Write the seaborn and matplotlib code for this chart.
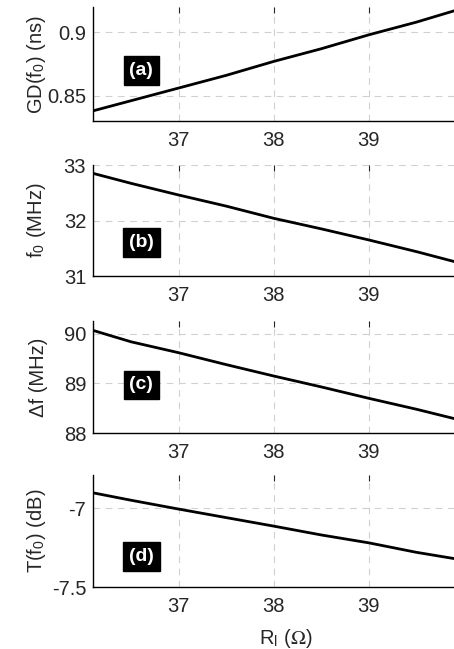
import matplotlib
matplotlib.use('Agg')
import matplotlib.pyplot as plt
import numpy as np
import pandas as pd
import seaborn as sns

# load resistance R_l (ohm)
rl = [36.1, 36.5, 37.0, 37.5, 38.0, 38.5, 39.0, 39.5, 39.9]
# group delay at f0 (ns)
gd = [0.838, 0.846, 0.856, 0.866, 0.877, 0.887, 0.898, 0.908, 0.917]
# centre frequency (MHz)
f0 = [32.85, 32.67, 32.46, 32.26, 32.04, 31.85, 31.65, 31.44, 31.26]
# bandwidth (MHz)
df_bw = [90.07, 89.84, 89.62, 89.38, 89.15, 88.93, 88.70, 88.48, 88.29]
# transmission at f0 (dB)
tf0 = [-6.903, -6.95, -7.006, -7.06, -7.114, -7.17, -7.22, -7.28, -7.32]

xticks = [37, 38, 39]

sns.set_style('white')
plt.rcParams['font.family'] = ['Liberation Sans', 'DejaVu Sans']
plt.rcParams['mathtext.fontset'] = 'stix'
plt.rcParams['font.size'] = 14

data = pd.DataFrame({'rl': rl, 'gd': gd, 'f0': f0, 'df': df_bw, 'tf0': tf0})

fig = plt.figure(figsize=(4.54, 6.49), dpi=100)

# panel settings: column, ylabel, ylim, yticks, ticklabels, axes rect, tag pos
panels = [
    ('gd', r'GD(f$_\mathregular{0}$) (ns)', (0.83, 0.92), [0.85, 0.9], ['0.85', '0.9'],
     [0.205, 0.8136, 0.80, 0.1757], '(a)', 0.44),
    ('f0', r'f$_\mathregular{0}$ (MHz)', (31, 33), [31, 32, 33], ['31', '32', '33'],
     [0.205, 0.5747, 0.80, 0.171], '(b)', 0.30),
    ('df', 'Δf (MHz)', (88, 90.26), [88, 89, 90], ['88', '89', '90'],
     [0.205, 0.3328, 0.80, 0.1726], '(c)', 0.43),
    ('tf0', r'T(f$_\mathregular{0}$) (dB)', (-7.5, -6.79), [-7.5, -7], ['-7.5', '-7'],
     [0.205, 0.0955, 0.80, 0.1726], '(d)', 0.27),
]

for col, ylab, ylim, yt, ytl, rect, tag, ty in panels:
    ax = fig.add_axes(rect)
    sns.lineplot(data=data, x='rl', y=col, ax=ax, color='black', linewidth=2)
    ax.set_xlim(36.1, 39.92)
    ax.set_ylim(*ylim)
    ax.set_xticks(xticks)
    ax.set_yticks(yt)
    ax.set_yticklabels(ytl)
    ax.set_xlabel('')
    ax.set_ylabel(ylab, fontsize=14.5)
    ax.yaxis.set_label_coords(-0.125, 0.5)
    ax.grid(True, color='#d0d0d0', linestyle=(0, (6, 5)), linewidth=0.8)
    ax.tick_params(direction='in', length=4, width=0.8, top=True, labelsize=14.5)
    ax.tick_params(axis='x', pad=7)
    ax.tick_params(axis='y', pad=5)
    for s in ['top', 'right']:
        ax.spines[s].set_visible(False)
    for s in ['left', 'bottom']:
        ax.spines[s].set_color('black')
        ax.spines[s].set_linewidth(1)
    ax.text(0.133, ty, tag, transform=ax.transAxes, color='white', fontsize=14,
            fontweight='bold', ha='center', va='center',
            bbox=dict(boxstyle='square,pad=0.3', fc='black', ec='black'))
    if tag == '(d)':
        ax.set_xlabel(r'R$_\mathregular{l}$ ($\Omega$)', fontsize=14.5)
        ax.xaxis.set_label_coords(0.53, -0.36)

fig.savefig('out.png', dpi=100)
